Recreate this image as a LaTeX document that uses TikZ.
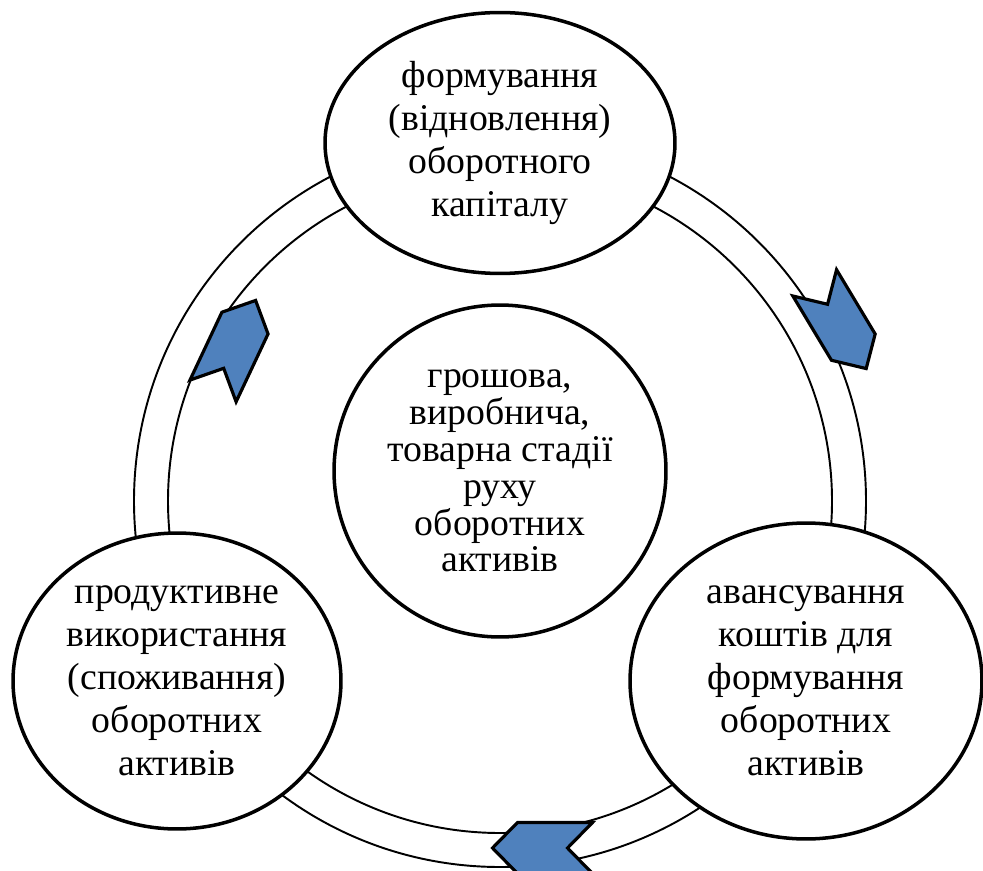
\documentclass[tikz,border=0pt]{standalone}
\usepackage{fontspec}
\setmainfont{Liberation Serif}
\usetikzlibrary{shapes.geometric, positioning}
\definecolor{chevblue}{HTML}{4F81BD}

\begin{document}
\begin{tikzpicture}[x=0.02cm, y=0.02cm,
	every node/.style={font=\fontsize{21.5}{24.4}\selectfont, align=center},
	phase/.style={ellipse, draw, line width=2pt, fill=white, inner sep=0pt},
	hub/.style={circle, draw, line width=2pt, fill=white, inner sep=0pt, minimum size=6.64cm, font=\fontsize{21.5}{21}\selectfont},
	ring/.style={draw, line width=1.1pt},
	chev/.pic={\draw[line width=1.8pt, fill=chevblue, line join=miter]
		(-37.5,25.5) -- (37.5,25.5) -- (62.5,0) -- (37.5,-25.5) -- (-37.5,-25.5) -- (-12.5,0) -- cycle;}
	]
\useasboundingbox (0,0) rectangle (983,870);

% double ring
\coordinate (mid) at (500,369);
\draw[ring] (mid) circle[radius=332];
\draw[ring] (mid) circle[radius=366];

% three stages
\node[phase, minimum width=7cm, minimum height=5.22cm] (form) at (500,727) {формування\\(відновлення)\\оборотного\\капіталу};
\node[phase, minimum width=7.04cm, minimum height=6.32cm] (avans) at (806,189) {авансування\\коштів для\\формування\\оборотних\\активів};
\node[phase, minimum width=6.56cm, minimum height=5.92cm] (use) at (177,189) {продуктивне\\використання\\(споживання)\\оборотних\\активів};

\node[hub] (stages) at (500,399) {грошова,\\виробнича,\\товарна стадії\\руху\\оборотних\\активів};

% arrows round the ring
\pic[rotate=-59] (chR) at (834,555) {chev};
\pic[rotate=180] (chB) at (555,22) {chev};
\pic[rotate=64.8] (chL) at (229,513) {chev};

\end{tikzpicture}
\end{document}
